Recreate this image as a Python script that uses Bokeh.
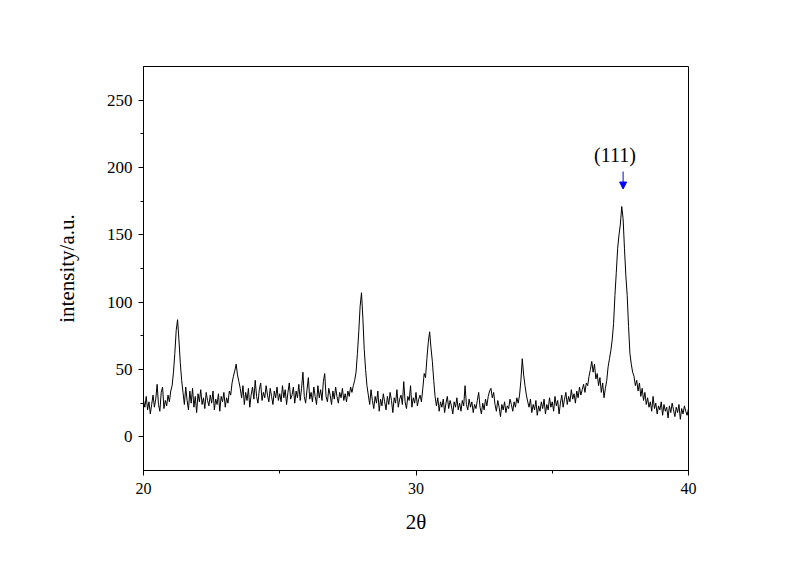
import numpy as np
from bokeh.plotting import figure
from bokeh.models import FixedTicker, Label, Arrow, NormalHead, Range1d
from bokeh.embed import file_html
from bokeh.resources import INLINE

# 2-theta grid: start and step of the scan
theta_start = 20.0
theta_step = 0.05

# intensity, 20.00 - 24.95
intensity_20_25 = [
    27, 22, 30, 20, 26, 17, 24, 31, 22, 28,
    39, 24, 19, 33, 37, 21, 27, 23, 31, 26,
    34, 38, 48, 62, 79, 87, 72, 55, 42, 33,
    24, 37, 27, 20, 34, 25, 36, 22, 30, 18,
    32, 26, 35, 24, 29, 21, 33, 27, 23, 31,
    25, 34, 20, 28, 24, 32, 19, 30, 26, 33,
    22, 29, 25, 34, 31, 40, 45, 49, 54, 46,
    41, 36, 29, 38, 24, 33, 27, 36, 22, 31,
    37, 28, 42, 30, 25, 35, 40, 27, 33, 29,
    38, 31, 26, 36, 30, 24, 34, 29, 37, 27,
]
# intensity, 25.00 - 29.95
intensity_25_30 = [
    32, 26, 38, 29, 35, 24, 33, 40, 28, 31,
    37, 25, 34, 29, 39, 27, 36, 48, 30, 25,
    35, 44, 28, 33, 26, 37, 30, 24, 38, 29,
    35, 27, 41, 47, 30, 26, 36, 31, 24, 34,
    28, 37, 30, 25, 33, 29, 36, 27, 32, 26,
    34, 30, 37, 33, 38, 42, 48, 62, 78, 97,
    107, 88, 65, 50, 38, 31, 24, 35, 27, 21,
    30, 25, 34, 19, 28, 23, 32, 26, 20, 30,
    24, 33, 27, 18, 29, 25, 35, 22, 28, 31,
    24, 41, 26, 21, 30, 27, 38, 22, 29, 25,
]
# intensity, 30.00 - 34.95
intensity_30_35 = [
    33, 23, 28, 31, 26, 36, 47, 44, 58, 70,
    78, 66, 56, 42, 30, 23, 29, 19, 26, 22,
    28, 18, 25, 30, 21, 27, 23, 17, 26, 22,
    29, 20, 25, 19, 27, 23, 38, 24, 20, 28,
    22, 26, 18, 24, 21, 27, 33, 22, 17, 25,
    20, 28, 23, 30, 34, 36, 29, 33, 24, 19,
    27, 22, 15, 24, 20, 26, 18, 23, 21, 28,
    24, 19, 26, 22, 29, 25, 31, 42, 58, 46,
    38, 31, 26, 22, 28, 18, 24, 20, 27, 16,
    23, 19, 26, 21, 28, 17, 24, 20, 29, 22,
]
# intensity, 35.00 - 40.00
intensity_35_40 = [
    26, 19, 30, 23, 27, 17, 25, 31, 22, 28,
    33, 24, 30, 26, 35, 28, 32, 25, 34, 29,
    37, 31, 35, 39, 33, 40, 38, 45, 50, 56,
    48, 54, 43, 47, 38, 44, 33, 40, 29, 36,
    42, 52, 58, 64, 72, 84, 105, 122, 140, 150,
    158, 171, 162, 140, 120, 105, 82, 62, 54, 48,
    45, 38, 42, 34, 40, 30, 36, 27, 33, 24,
    29, 22, 26, 19, 30, 21, 25, 17, 23, 20,
    26, 16, 24, 19, 22, 14, 23, 18, 25, 20,
    15, 22, 18, 24, 13, 21, 17, 23, 19, 16,
    21,
]

x_ticks = [20, 30, 40]
x_minor = [25, 35]
y_ticks = [0, 50, 100, 150, 200, 250]
y_minor = [25, 75, 125, 175, 225]

peak_label = "(111)"
peak_theta = 37.6
x_title = "2θ"
y_title = "intensity/a.u."

intensity = np.array(intensity_20_25 + intensity_25_30 + intensity_30_35 + intensity_35_40, dtype=float)
theta = theta_start + theta_step * np.arange(len(intensity))

FONT = "Liberation Serif"

p = figure(width=784, height=549, output_backend="svg", toolbar_location=None,
           x_range=Range1d(20, 40), y_range=Range1d(-25, 275),
           min_border_left=143, min_border_right=96, min_border_top=66, min_border_bottom=79)
p.line(theta, intensity, line_color="black", line_width=1)

p.xgrid.visible = False
p.ygrid.visible = False
p.outline_line_color = "black"
p.outline_line_width = 1
p.background_fill_color = "white"
p.border_fill_color = "white"

p.xaxis.ticker = FixedTicker(ticks=x_ticks, minor_ticks=x_minor)
p.yaxis.ticker = FixedTicker(ticks=y_ticks, minor_ticks=y_minor)
for ax in (p.xaxis, p.yaxis):
    ax.axis_line_color = "black"
    ax.major_tick_line_color = "black"
    ax.minor_tick_line_color = "black"
    ax.major_tick_in = 0
    ax.major_tick_out = 5
    ax.minor_tick_in = 0
    ax.minor_tick_out = 3
    ax.major_label_text_font = FONT
    ax.axis_label_text_font = FONT
    ax.axis_label_text_font_style = "normal"
    ax.major_label_text_color = "black"
    ax.axis_label_text_color = "black"

p.xaxis.major_label_text_font_size = "16px"
p.yaxis.major_label_text_font_size = "17px"
p.xaxis.axis_label = x_title
p.yaxis.axis_label = y_title
p.xaxis.axis_label_text_font_size = "21px"
p.yaxis.axis_label_text_font_size = "21px"
p.xaxis.major_label_standoff = 7
p.yaxis.major_label_standoff = 6
p.xaxis.axis_label_standoff = 13
p.yaxis.axis_label_standoff = 25

p.add_layout(Arrow(end=NormalHead(size=7, fill_color="blue", line_color="blue"),
                   x_start=peak_theta, y_start=197, x_end=peak_theta, y_end=184,
                   line_color="blue", line_width=1))
p.add_layout(Label(x=peak_theta - 0.3, y=209, text=peak_label, text_align="center",
                   text_baseline="alphabetic", text_font=FONT, text_font_size="20px",
                   text_color="black"))

open("out.html", "w").write(file_html(p, INLINE))
